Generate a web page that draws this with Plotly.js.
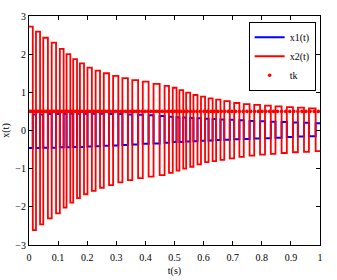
<!DOCTYPE html>
<html>
<head>
<meta charset="utf-8">
<script src="https://cdn.plot.ly/plotly-3.0.1.min.js"></script>
<style>html,body{margin:0;padding:0;background:#fff;}#chart{width:337px;height:280px;}</style>
</head>
<body>
<div id="chart"></div>
<script>
// switching instants of the state (x2 goes high at riseT, low at fallT)
const riseT = [0, 0.024, 0.049, 0.078, 0.106, 0.129, 0.152, 0.175, 0.201, 0.229, 0.257, 0.289, 0.321, 0.355, 0.391, 0.428, 0.466, 0.494, 0.517, 0.540, 0.565, 0.591, 0.617, 0.643, 0.671, 0.705, 0.738, 0.774, 0.811, 0.847, 0.886, 0.924, 0.962];
const fallT = [0.013, 0.038, 0.065, 0.093, 0.119, 0.142, 0.165, 0.189, 0.216, 0.244, 0.275, 0.307, 0.340, 0.375, 0.411, 0.449, 0.481, 0.507, 0.530, 0.554, 0.579, 0.605, 0.631, 0.658, 0.690, 0.723, 0.758, 0.794, 0.831, 0.868, 0.907, 0.945, 0.985];
const tEnd = 1;
// x2(t) levels in each interval
const x2High = [2.72, 2.59, 2.43, 2.30, 2.14, 2.00, 1.87, 1.76, 1.65, 1.57, 1.50, 1.43, 1.37, 1.32, 1.28, 1.22, 1.17, 1.12, 1.06, 0.99, 0.93, 0.89, 0.84, 0.81, 0.77, 0.72, 0.69, 0.67, 0.65, 0.63, 0.61, 0.60, 0.58];
const x2Low = [-2.61, -2.46, -2.30, -2.17, -2.02, -1.89, -1.77, -1.67, -1.58, -1.50, -1.43, -1.36, -1.30, -1.25, -1.21, -1.17, -1.11, -1.05, -1.00, -0.95, -0.89, -0.83, -0.80, -0.77, -0.73, -0.69, -0.66, -0.63, -0.61, -0.59, -0.57, -0.56, -0.54];
// x1(t) levels (low while x2 high, high while x2 low)
const x1Low = [-0.46, -0.46, -0.45, -0.45, -0.44, -0.44, -0.43, -0.43, -0.42, -0.41, -0.40, -0.39, -0.38, -0.37, -0.35, -0.34, -0.32, -0.30, -0.30, -0.29, -0.28, -0.27, -0.26, -0.25, -0.24, -0.23, -0.22, -0.21, -0.20, -0.19, -0.17, -0.16, -0.15];
const x1High = [0.42, 0.42, 0.43, 0.43, 0.44, 0.44, 0.44, 0.44, 0.44, 0.44, 0.43, 0.43, 0.42, 0.41, 0.40, 0.38, 0.36, 0.35, 0.34, 0.33, 0.32, 0.31, 0.30, 0.29, 0.28, 0.27, 0.25, 0.24, 0.23, 0.22, 0.21, 0.20, 0.19];
// triggering instants
const tk = [0.000, 0.006, 0.012, 0.018, 0.024, 0.030, 0.036, 0.042, 0.048, 0.054, 0.060, 0.066, 0.072, 0.078, 0.084, 0.091, 0.098, 0.105, 0.112, 0.119, 0.126, 0.133, 0.140, 0.147, 0.154, 0.161, 0.168, 0.175, 0.182, 0.190, 0.198, 0.206, 0.214, 0.222, 0.230, 0.238, 0.246, 0.254, 0.262, 0.270, 0.279, 0.288, 0.297, 0.306, 0.315, 0.324, 0.333, 0.342, 0.351, 0.360, 0.369, 0.378, 0.388, 0.398, 0.408, 0.418, 0.428, 0.438, 0.448, 0.458, 0.468, 0.478, 0.489, 0.500, 0.511, 0.522, 0.533, 0.544, 0.555, 0.566, 0.577, 0.589, 0.601, 0.613, 0.625, 0.637, 0.649, 0.661, 0.673, 0.685, 0.697, 0.710, 0.723, 0.736, 0.749, 0.762, 0.775, 0.788, 0.801, 0.814, 0.827, 0.840, 0.854, 0.868, 0.882, 0.896, 0.910, 0.924, 0.938, 0.952, 0.966, 0.980, 0.994];
const tkLevel = 0.5;
const seriesNames = ['x1(t)', 'x2(t)', 'tk'];

const t1 = [], y1 = [], t2 = [], y2 = [];
for (let i = 0; i < riseT.length; i++) {
  const next = i + 1 < riseT.length ? riseT[i + 1] : tEnd;
  t2.push(riseT[i], fallT[i], fallT[i], next);
  y2.push(x2High[i], x2High[i], x2Low[i], x2Low[i]);
  t1.push(riseT[i], fallT[i], fallT[i], next);
  y1.push(x1Low[i], x1Low[i], x1High[i], x1High[i]);
}

const serif = 'Liberation Serif, Times New Roman, serif';
const traces = [
  {x: t1, y: y1, mode: 'lines', name: seriesNames[0], line: {color: '#0000ff', width: 2}},
  {x: t2, y: y2, mode: 'lines', name: seriesNames[1], line: {color: '#ff0000', width: 1.8}},
  {x: tk, y: tk.map(() => tkLevel), mode: 'markers', name: seriesNames[2], marker: {color: '#ff0000', size: 3.6, symbol: 'circle'}}
];
const axisCommon = {
  showline: true, linecolor: '#000', linewidth: 1, mirror: 'ticks', ticks: 'inside', ticklen: 4, tickcolor: '#000',
  showgrid: false, zeroline: false, tickfont: {family: serif, size: 10, color: '#000'}
};
const layout = {
  width: 337, height: 280,
  margin: {l: 29, r: 17, t: 16, b: 35},
  paper_bgcolor: '#fff', plot_bgcolor: '#fff',
  showlegend: true,
  legend: {x: 0.985, y: 0.975, xanchor: 'right', yanchor: 'top', bgcolor: '#fff', bordercolor: '#000', borderwidth: 1,
           font: {family: serif, size: 10, color: '#000'}, tracegroupgap: 0},
  xaxis: Object.assign({}, axisCommon, {range: [0, 1], dtick: 0.1, tick0: 0, ticklabelstandoff: 3,
           title: {text: 't(s)', font: {family: serif, size: 10, color: '#000'}, standoff: 4}}),
  yaxis: Object.assign({}, axisCommon, {range: [-3, 3], dtick: 1, tick0: 0,
           title: {text: 'x(t)', font: {family: serif, size: 10, color: '#000'}, standoff: 6}})
};
Plotly.newPlot('chart', traces, layout, {displayModeBar: false, staticPlot: true});
</script>
</body>
</html>
